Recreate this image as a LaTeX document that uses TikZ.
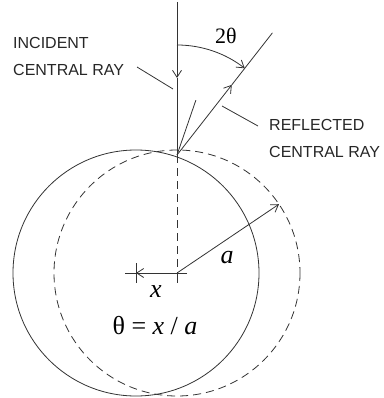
\documentclass[tikz,border=0pt]{standalone}
\usepackage{fontspec}
\setmainfont{Liberation Sans}
\newfontfamily\rayserif{Liberation Serif}
\usepackage{tikz}
\usetikzlibrary{arrows.meta, calc}

\tikzset{
  rayline/.style={draw=black!80, line width=0.8pt},
  dashline/.style={rayline, dash pattern=on 8pt off 5pt},
  barb/.style={-{Straight Barb[length=7pt, width=9pt, line width=0.8pt]}},
  caps/.style={font=\fontsize{16}{27}\selectfont, text=black!85, inner sep=0pt, align=left, anchor=north west},
  sym/.style={font=\rayserif\fontsize{26}{26}\selectfont, inner sep=0pt}
}

\begin{document}
\begin{tikzpicture}[x=1pt, y=-1pt]
  \useasboundingbox (0,0) rectangle (383,398);
  \coordinate (top) at (177,2);
  \coordinate (hit) at (177,155);
  \coordinate (C) at (177,273);
  \coordinate (S) at (136,273);
  \coordinate (inarr) at (177,78);
  \coordinate (reflend) at ($(hit)+(-52:155)$);
  \coordinate (reflarr) at ($(hit)+(-52:89)$);
  \coordinate (normal) at ($(hit)+(-71:58)$);
  \coordinate (arcstart) at ($(hit)+(-90:110)$);
  \coordinate (rim) at ($(C)+(-34:123)$);

  \draw[rayline] (S) circle (123);
  \draw[dashline] (C) circle (123);
  \draw[dashline] (hit) -- (C);

  \draw[rayline, barb] (top) -- (inarr);
  \draw[rayline] (inarr) -- (hit);
  \draw[rayline, barb] (hit) -- (reflarr);
  \draw[rayline] (reflarr) -- (reflend);
  \draw[rayline] (hit) -- (normal);
  \draw[rayline, barb] (arcstart) arc[start angle=-90, end angle=-52, radius=110];

  \draw[rayline, barb] (C) -- (rim);
  \draw[rayline, barb] ($(C)+(10,0)$) -- (S);
  \draw[rayline] (S) -- +(-11,0);
  \draw[rayline] ($(S)+(0,-10)$) -- ($(S)+(0,10)$);
  \draw[rayline] (C) -- ($(C)+(0,10)$);

  \node[caps] (incident) at (13,37) {INCIDENT\\CENTRAL RAY};
  \node[caps] (reflected) at (269,119) {REFLECTED\\CENTRAL RAY};
  \coordinate (inlead) at (137,67);
  \coordinate (refllead) at (258,126);
  \draw[rayline] (inlead) -- (173,89);
  \draw[rayline] (222,106) -- (refllead);

  \node[sym, font=\rayserif\fontsize{22}{22}\selectfont, anchor=base] (twotheta) at (226,44) {2θ};
  \node[sym, anchor=base] (alabel) at (227,263) {\textit{a}};
  \node[sym, anchor=base] (xlabel) at (156,297) {\textit{x}};
  \node[sym, anchor=base] (relation) at (155,334) {θ = \textit{x} / \textit{a}};
\end{tikzpicture}
\end{document}
